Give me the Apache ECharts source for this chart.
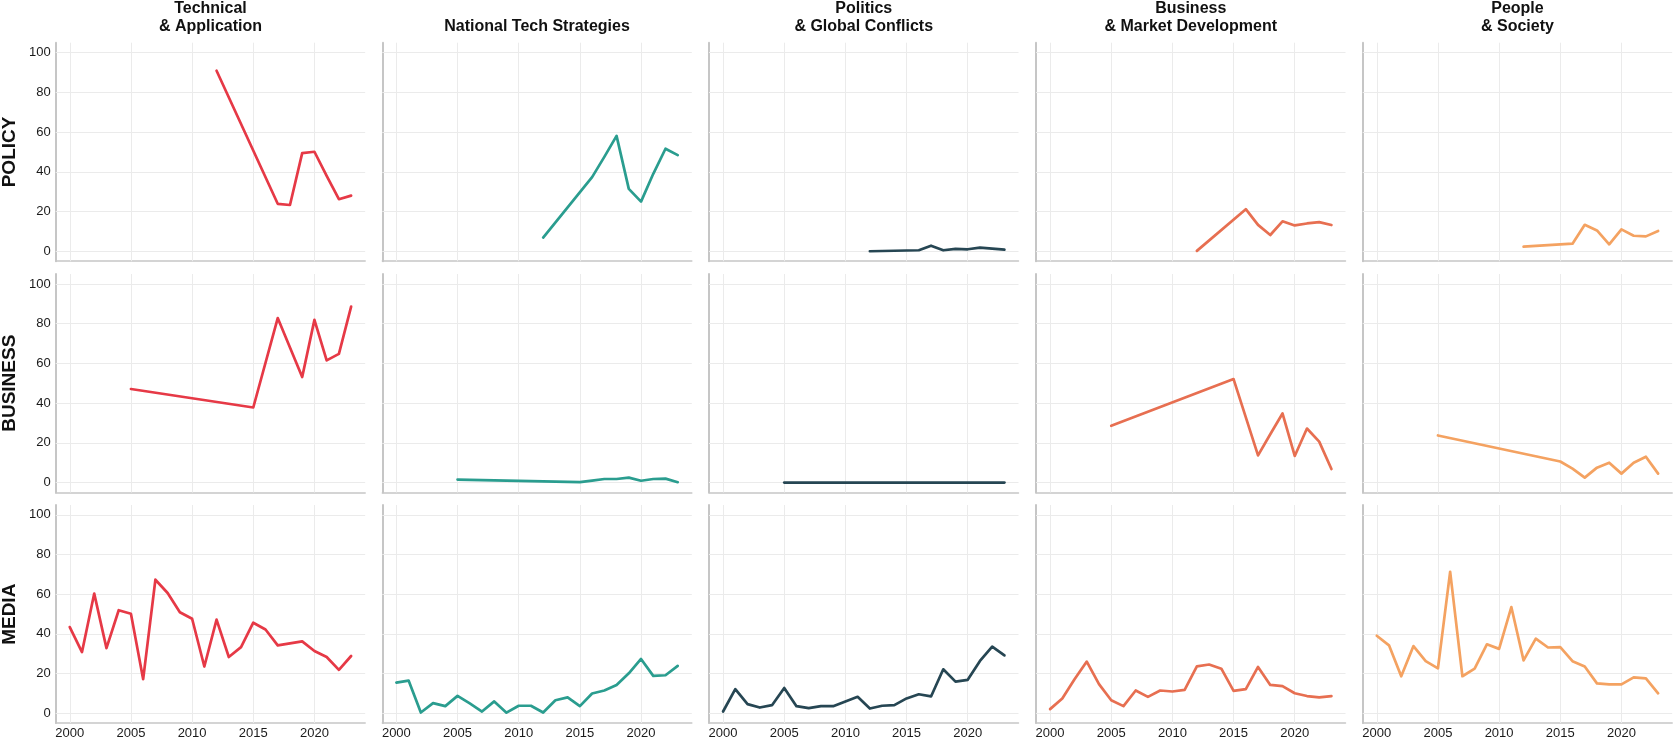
<!DOCTYPE html>
<html>
<head>
<meta charset="utf-8">
<script src="https://cdn.jsdelivr.net/npm/echarts@6/dist/echarts.min.js"></script>
<style>
html,body{margin:0;padding:0;background:#fff;}
#chart{width:1675px;height:740px;}
</style>
</head>
<body>
<div id="chart"></div>
<script>
// ---------- data ----------
const YEARS = [2000,2001,2002,2003,2004,2005,2006,2007,2008,2009,2010,2011,2012,2013,2014,2015,2016,2017,2018,2019,2020,2021,2022,2023];
const X_TICKS = [2000, 2005, 2010, 2015, 2020];
const Y_TICKS = [0, 20, 40, 60, 80, 100];

const COLUMNS = ["Technical\n& Application", "National Tech Strategies", "Politics\n& Global Conflicts", "Business\n& Market Development", "People\n& Society"];
const ROWS = ["POLICY", "BUSINESS", "MEDIA"];
const COLORS = ["#E63946", "#2A9D8F", "#264653", "#E76F51", "#F4A261"];

const n = null;
// POLICY
const policy_tech = [n,n,n,n,n,n,n,n,n,n,n,n,90.9,n,n,n,n,23.9,23.3,49.4,50.1,38.0,26.2,28.0];
const policy_nat  = [n,n,n,n,n,n,n,n,n,n,n,n,6.9,n,n,n,37.3,47.5,58.1,31.4,25.0,39.0,51.6,48.4];
const policy_pol  = [n,n,n,n,n,n,n,n,n,n,n,n,0.0,n,n,n,0.5,2.8,0.5,1.2,1.0,1.8,1.3,0.8];
const policy_bus  = [n,n,n,n,n,n,n,n,n,n,n,n,0.2,n,n,n,21.2,13.3,8.2,15.1,13.0,14.0,14.7,13.2];
const policy_ppl  = [n,n,n,n,n,n,n,n,n,n,n,n,2.3,n,n,n,3.8,13.3,10.5,3.5,11.0,7.8,7.5,10.2];
// BUSINESS
const business_tech = [n,n,n,n,n,47.1,n,n,n,n,n,n,n,n,n,37.8,n,82.8,68.0,53.1,81.9,61.5,64.8,88.6];
const business_nat  = [n,n,n,n,n,1.5,n,n,n,n,n,n,n,n,n,0.2,1.0,1.8,1.8,2.5,0.9,1.8,2.0,0.2];
const business_pol  = [n,n,n,n,n,0,n,n,n,n,n,n,n,n,n,0,0,0,0,0,0,0,0,0];
const business_bus  = [n,n,n,n,n,28.6,n,n,n,n,n,n,n,n,n,52.1,n,13.7,24.3,34.8,13.4,27.2,20.6,6.8];
const business_ppl  = [n,n,n,n,n,23.7,n,n,n,n,n,n,n,n,n,10.6,7.0,2.5,7.5,10.0,4.5,10.0,13.0,4.5];
// MEDIA
const media_tech = [43.4,30.8,60.3,32.8,51.9,50.1,17.1,67.3,60.6,50.9,47.6,23.5,47.2,28.3,33.3,45.6,42.2,34.2,35.2,36.2,31.3,28.3,21.8,28.8];
const media_nat  = [15.4,16.4,0.3,5.0,3.5,8.7,4.9,0.8,5.9,0.2,3.7,3.7,0.3,6.5,7.9,3.5,9.9,11.4,14.2,20.1,27.3,18.8,19.1,23.8];
const media_pol  = [0.8,12.1,4.5,2.8,4.0,12.7,3.5,2.5,3.5,3.5,5.9,8.2,2.3,3.7,4.0,7.4,9.5,8.4,22.1,15.9,16.8,26.3,33.5,29.1];
const media_bus  = [2.0,7.4,17.1,26.0,14.6,6.5,3.5,11.4,8.2,11.4,10.9,11.7,23.6,24.5,22.4,11.2,12.1,23.3,14.2,13.6,10.0,8.6,7.9,8.6];
const media_ppl  = [39.0,34.2,18.6,33.8,26.2,22.6,71.3,18.6,22.4,34.7,32.4,53.5,26.6,37.6,33.1,33.3,26.2,23.5,15.0,14.5,14.5,18.0,17.5,10.0];

const PANELS = [
  [policy_tech, policy_nat, policy_pol, policy_bus, policy_ppl],
  [business_tech, business_nat, business_pol, business_bus, business_ppl],
  [media_tech, media_nat, media_pol, media_bus, media_ppl]
];

// ---------- layout ----------
const FONT = "'Liberation Sans', Arial, Helvetica, sans-serif";
const colLeft = [55.7, 382.3, 709, 1036, 1362.7];
const W = 309.5;
const rowTop = [42.7, 274, 505];
const H = 218.5;
const AXIS_COLOR = '#c6c6c6';
const GRID_COLOR = '#ebebeb';

const grids = [], xAxes = [], yAxes = [], series = [], graphics = [];

for (let r = 0; r < 3; r++) {
  for (let c = 0; c < 5; c++) {
    const idx = r * 5 + c;
    grids.push({left: colLeft[c], top: rowTop[r], width: W, height: H, containLabel: false});
    xAxes.push({
      type: 'value', gridIndex: idx, min: 1998.85, max: 2024.15,
      axisLine: {show: true, onZero: false, lineStyle: {color: AXIS_COLOR, width: 1.5}},
      axisTick: {show: false},
      splitLine: {show: false},
      axisLabel: {show: r === 2, customValues: X_TICKS, fontSize: 13, color: '#1a1a1a', margin: 4, fontFamily: FONT,
                  formatter: v => String(v)}
    });
    yAxes.push({
      type: 'value', gridIndex: idx, min: -5, max: 105,
      axisLine: {show: true, onZero: false, lineStyle: {color: AXIS_COLOR, width: 2}},
      axisTick: {show: false},
      splitLine: {show: false},
      axisLabel: {show: c === 0, customValues: Y_TICKS, fontSize: 13, color: '#1a1a1a', margin: 5, fontFamily: FONT}
    });
    const vals = PANELS[r][c];
    series.push({
      type: 'line', xAxisIndex: idx, yAxisIndex: idx, z: 3,
      data: YEARS.map((y, i) => [y, vals[i] === null ? '-' : vals[i]]),
      connectNulls: true, symbol: 'none', silent: true,
      lineStyle: {color: COLORS[c], width: 2.7, cap: 'round', join: 'round'},
      markLine: {
        silent: true, symbol: 'none', z: 1, animation: false,
        label: {show: false},
        lineStyle: {color: GRID_COLOR, width: 1, type: 'solid'},
        emphasis: {disabled: true},
        data: X_TICKS.map(v => ({xAxis: v})).concat(Y_TICKS.map(v => ({yAxis: v})))
      }
    });
  }
}

// column titles
for (let c = 0; c < 5; c++) {
  graphics.push({
    type: 'text', x: colLeft[c] + W / 2, y: 36,
    style: {text: COLUMNS[c], font: 'bold 16px ' + FONT, fill: '#111', align: 'center', verticalAlign: 'bottom', lineHeight: 18}
  });
}
// row labels
for (let r = 0; r < 3; r++) {
  graphics.push({
    type: 'text', x: 10, y: rowTop[r] + H / 2, rotation: Math.PI / 2,
    style: {text: ROWS[r], font: 'bold 19px ' + FONT, fill: '#111', align: 'center', verticalAlign: 'middle'}
  });
}

const chart = echarts.init(document.getElementById('chart'), null, {renderer: 'canvas'});
chart.setOption({
  backgroundColor: '#fff',
  animation: false,
  grid: grids, xAxis: xAxes, yAxis: yAxes, series: series,
  graphic: graphics
});
</script>
</body>
</html>
